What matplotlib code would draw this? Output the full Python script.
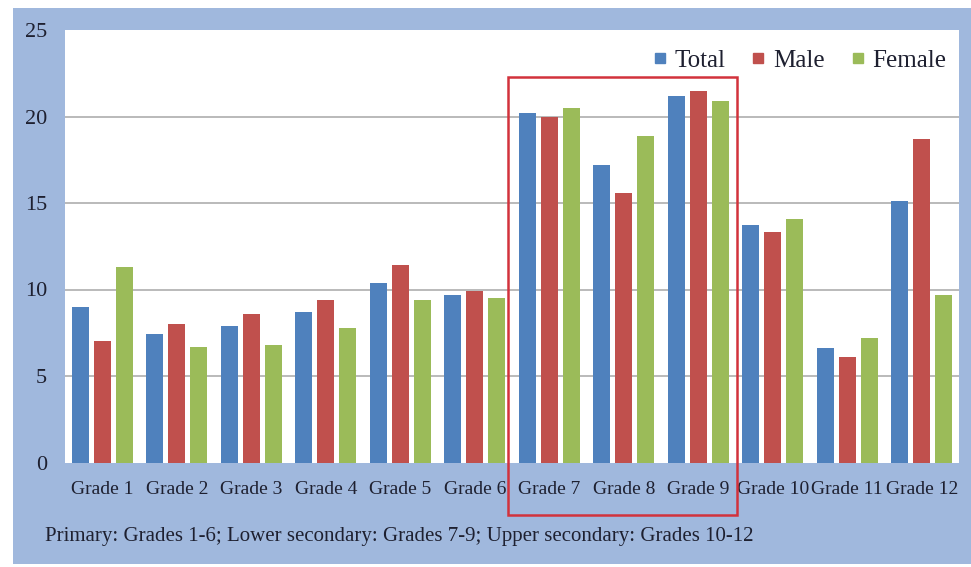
import matplotlib
matplotlib.use("Agg")
import matplotlib.pyplot as plt
import numpy as np
from matplotlib.patches import Rectangle
from matplotlib.lines import Line2D
import matplotlib.transforms as mtransforms

categories = ["Grade 1", "Grade 2", "Grade 3", "Grade 4", "Grade 5", "Grade 6",
              "Grade 7", "Grade 8", "Grade 9", "Grade 10", "Grade 11", "Grade 12"]
total = [9.0, 7.4, 7.9, 8.7, 10.4, 9.7, 20.2, 17.2, 21.2, 13.7, 6.6, 15.1]
male = [7.0, 8.0, 8.6, 9.4, 11.4, 9.9, 20.0, 15.6, 21.5, 13.3, 6.1, 18.7]
female = [11.3, 6.7, 6.8, 7.8, 9.4, 9.5, 20.5, 18.9, 20.9, 14.1, 7.2, 9.7]
series_names = ["Total", "Male", "Female"]
yticks = [0, 5, 10, 15, 20, 25]
footnote = "Primary: Grades 1-6; Lower secondary: Grades 7-9; Upper secondary: Grades 10-12"
highlight = ("Grade 7", "Grade 9")

colors = ["#4F81BD", "#C0504D", "#9BBB59"]
frame_color = "#A0B8DD"
text_color = "#1E2030"
font = ["Liberation Serif", "DejaVu Serif"]

plt.rcParams["font.family"] = font

W, H = 971, 567
fig = plt.figure(figsize=(W / 100, H / 100), dpi=100, facecolor="white")

# blue frame
fig.patches.append(Rectangle((13 / W, 1 - 564 / H), 1 - 13 / W, (564 - 8) / H,
                             transform=fig.transFigure, facecolor=frame_color,
                             edgecolor="none", zorder=-5))

ax_left, ax_right = 65 / W, 959 / W
ax_top, ax_bot = 1 - 30 / H, 1 - 462.5 / H
ax = fig.add_axes([ax_left, ax_bot, ax_right - ax_left, ax_top - ax_bot])
ax.set_zorder(2)
ax.set_facecolor("white")

x = np.arange(len(categories))
bw = 0.228
step = 0.295
for i, (vals, c, name) in enumerate(zip([total, male, female], colors, series_names)):
    ax.bar(x + (i - 1) * step, vals, width=bw, color=c, zorder=3, label=name)

ax.set_xlim(-0.5, len(categories) - 0.5)
ax.set_ylim(0, 25)
ax.set_yticks(yticks)
ax.set_yticklabels([str(t) for t in yticks])
ax.set_xticks(x)
ax.set_xticklabels(categories)
for s in ax.spines.values():
    s.set_visible(False)
ax.tick_params(axis="both", length=0, colors=text_color)
ax.tick_params(axis="y", pad=13, labelsize=16)
ax.tick_params(axis="x", pad=13, labelsize=14)
for t in yticks[1:-1]:
    ax.axhline(t, color="#B4B4B4", linewidth=1.3, zorder=1)

handles = [Line2D([], [], marker="s", linestyle="none", markersize=7,
                  markerfacecolor=c, markeredgecolor=c) for c in colors]
ax.legend(handles, series_names, loc="center right", bbox_to_anchor=(1.0, 0.93),
          ncol=3, frameon=False, fontsize=18, handlelength=0.6,
          handletextpad=0.3, columnspacing=1.0, labelcolor=text_color,
          borderaxespad=0.1)

# highlight rectangle
i0 = categories.index(highlight[0])
i1 = categories.index(highlight[1])
trans = mtransforms.blended_transform_factory(ax.transData, ax.transAxes)
rect = Rectangle((i0 - 0.55, -0.122), (i1 - i0) + 1.07, 0.891 + 0.122,
                 transform=trans, fill=False, edgecolor="#D2323C",
                 linewidth=1.8, clip_on=False, zorder=5)
ax.add_patch(rect)

fig.text(45 / W, 1 - 537 / H, footnote, fontsize=15, color=text_color,
         ha="left", va="center")

fig.savefig("out.png", dpi=100, facecolor="white")
